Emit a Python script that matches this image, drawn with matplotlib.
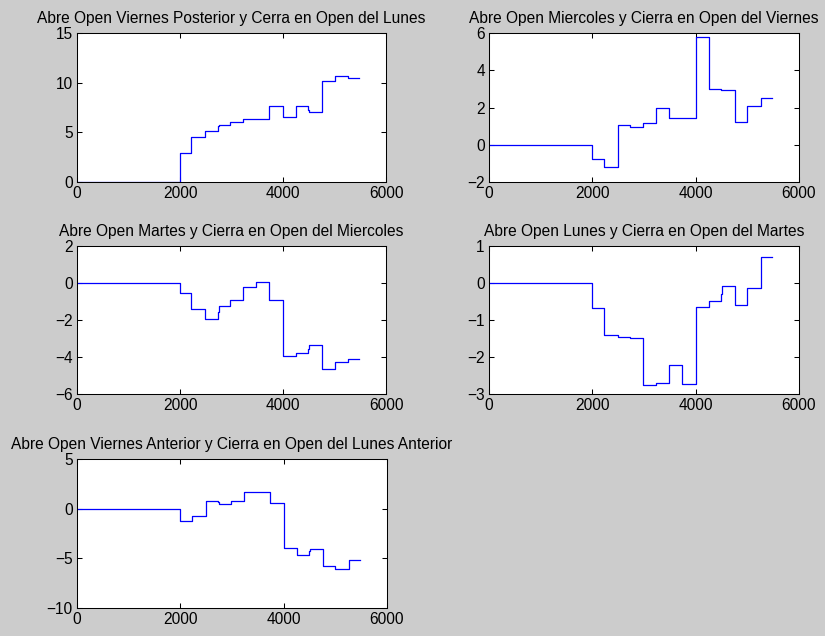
import numpy as np
import matplotlib
matplotlib.use("Agg")
import matplotlib.pyplot as plt

# step start positions shared by all panels, and where the last step ends
x_edges = [0, 2000, 2220, 2490, 2730, 2750, 2980, 3230, 3480, 3735,
           4000, 4250, 4490, 4510, 4760, 5000, 5260]
x_end = 5480

titles = [
    "Abre Open Viernes Posterior y Cerra en Open del Lunes",
    "Abre Open Miercoles y Cierra en Open del Viernes",
    "Abre Open Martes y Cierra en Open del Miercoles",
    "Abre Open Lunes y Cierra en Open del Martes",
    "Abre Open Viernes Anterior y Cierra en Open del Lunes Anterior",
]

vie_lun_post = [0, 2.87, 4.57, 5.17, 5.6, 5.77, 6.07, 6.37, 6.37, 7.67,
                6.57, 7.67, 7.23, 7.07, 10.17, 10.67, 10.47]
mie_vie = [0, -0.76, -1.19, 1.08, 0.97, 0.97, 1.19, 1.95, 1.41, 1.41,
           5.78, 2.97, 2.92, 2.92, 1.24, 2.07, 2.50]
mar_mie = [0, -0.52, -1.41, -1.95, -1.59, -1.24, -0.92, -0.22, 0.05, -0.92,
           -3.95, -3.78, -3.55, -3.35, -4.63, -4.27, -4.09]
lun_mar = [0, -0.68, -1.41, -1.46, -1.49, -1.49, -2.77, -2.70, -2.22, -2.73,
           -0.65, -0.49, -0.29, -0.07, -0.59, -0.14, 0.71]
vie_lun_ant = [0, -1.2, -0.7, 0.8, 0.63, 0.5, 0.8, 1.7, 1.7, 0.6,
               -4.0, -4.7, -4.3, -4.1, -5.8, -6.1, -5.2]

series = [vie_lun_post, mie_vie, mar_mie, lun_mar, vie_lun_ant]
ylims = [(0, 15), (-2, 6), (-6, 2), (-3, 1), (-10, 5)]
ysteps = [5, 2, 2, 1, 5]

plt.rcParams['font.family'] = ['Liberation Sans', 'DejaVu Sans']

fig = plt.figure(figsize=(8.25, 6.36), dpi=100, facecolor='#cccccc')

W, H = 825, 636
# pixel boxes (left, top, right, bottom)
boxes = [(77, 33, 386, 182), (489, 33, 799, 182),
         (77, 246, 386, 394), (489, 246, 799, 394),
         (77, 459, 387, 608)]

for box, title, vals, ylim, ystep in zip(boxes, titles, series, ylims, ysteps):
    l, t, r, b = box
    ax = fig.add_axes([l / W, 1 - b / H, (r - l) / W, (b - t) / H])
    xs = x_edges + [x_end]
    ys = vals + [vals[-1]]
    ax.step(xs, ys, where='post', color='blue', lw=0.9)
    ax.set_xlim(0, 6000)
    ax.set_ylim(*ylim)
    ax.set_xticks([0, 2000, 4000, 6000])
    ax.set_yticks(np.arange(ylim[0], ylim[1] + 0.1, ystep))
    ax.tick_params(direction='in', top=True, right=True, length=3.5,
                   width=0.75, labelsize=11.2, pad=3)
    for s in ax.spines.values():
        s.set_linewidth(0.75)
    ax.set_title(title, fontsize=11.2, pad=7)

fig.savefig("out.png", dpi=100, facecolor=fig.get_facecolor())
